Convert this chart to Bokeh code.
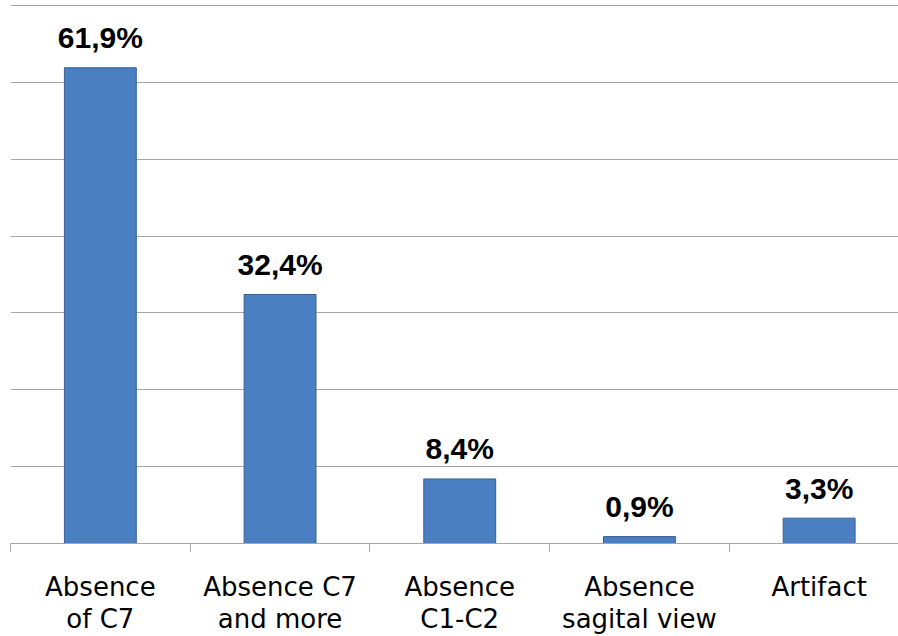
from bokeh.plotting import figure
from bokeh.models import ColumnDataSource, Range1d, FixedTicker, SingleIntervalTicker
from bokeh.core.properties import value
from bokeh.embed import file_html
from bokeh.resources import INLINE

categories = ["Absence\nof C7", "Absence C7\nand more", "Absence\nC1-C2", "Absence\nsagital view", "Artifact"]
values = [61.9, 32.4, 8.4, 0.9, 3.3]
value_labels = ["61,9%", "32,4%", "8,4%", "0,9%", "3,3%"]

xs = list(range(len(categories)))
source = ColumnDataSource(dict(x=xs, top=values, label=value_labels))

W, H = 898, 636
left, bottom = 10, 93
frame_w = W - left
cat_px = 179.7
p = figure(width=W, height=H, output_backend="svg", toolbar_location=None,
           x_range=Range1d(-0.5, -0.5 + frame_w / cat_px),
           y_range=Range1d(0, 70 * (H - bottom) / (H - bottom - 5)),
           min_border_left=left, min_border_right=0, min_border_top=0,
           min_border_bottom=bottom)
p.outline_line_color = None
p.background_fill_color = "white"
p.border_fill_color = "white"

p.vbar(x="x", top="top", width=0.4, source=source,
       fill_color="#4a7fc2", line_color="#365f96", line_width=1)

p.text(x="x", y="top", text="label", source=source,
       text_font=value("Liberation Sans"), text_font_style="bold",
       text_font_size="30px", text_align="center", text_baseline="alphabetic",
       y_offset=-30, text_color="#000000")

# axes
p.yaxis.visible = False
p.ygrid.ticker = SingleIntervalTicker(interval=10)
p.ygrid.grid_line_color = "#a6a6a6"
p.ygrid.grid_line_width = 1
p.xgrid.visible = False

xa = p.xaxis[0]
xa.ticker = FixedTicker(ticks=xs, minor_ticks=[i - 0.5 for i in range(len(categories) + 1)])
xa.major_label_overrides = {i: c for i, c in enumerate(categories)}
xa.axis_line_color = "#a6a6a6"
xa.major_tick_line_color = None
xa.major_tick_out = 0
xa.major_tick_in = 0
xa.minor_tick_line_color = "#a6a6a6"
xa.minor_tick_out = 8
xa.minor_tick_in = 0
xa.major_label_text_font = "DejaVu Sans"
xa.major_label_text_font_size = "26px"
xa.major_label_text_line_height = 1.07
xa.major_label_text_color = "#000000"
xa.major_label_text_align = "center"
xa.major_label_text_baseline = "middle"
xa.major_label_standoff = 20

open("out.html", "w").write(file_html(p, INLINE))
